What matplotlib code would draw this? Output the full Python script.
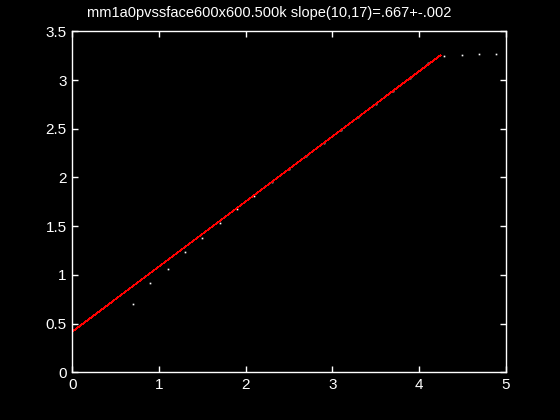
import numpy as np
import matplotlib
matplotlib.use('Agg')
import matplotlib.pyplot as plt

# data points (white dots)
x_pts = [0.70, 0.90, 1.10, 1.30, 1.50, 1.70, 1.90, 2.10, 2.30, 2.50, 2.70,
         2.90, 3.10, 3.30, 3.50, 3.70, 3.90, 4.10, 4.29, 4.50, 4.69, 4.89]
y_pts = [0.698, 0.914, 1.057, 1.232, 1.376, 1.530, 1.673, 1.810, 1.953, 2.087, 2.220,
         2.354, 2.487, 2.621, 2.754, 2.888, 3.021, 3.172, 3.244, 3.255, 3.265, 3.265]

# fitted line
fit_x = [0.0, 4.25]
fit_y = [0.417, 3.255]

title = 'mm1a0pvssface600x600.500k slope(10,17)=.667+-.002'

plt.rcParams['font.family'] = ['Liberation Sans', 'DejaVu Sans']

fig = plt.figure(figsize=(5.6, 4.2), dpi=100, facecolor='black')
ax = fig.add_axes([0.129, 0.1136, 0.774, 0.8119], facecolor='black')

ax.plot(x_pts, y_pts, linestyle='none', marker='s', markersize=1.2,
        color='white', markeredgewidth=0)
ax.plot(fit_x, fit_y, color='red', linewidth=0.5, antialiased=False)

ax.set_xlim(0, 5)
ax.set_ylim(0, 3.5)
ax.set_xticks([0, 1, 2, 3, 4, 5])
ax.set_xticklabels(['0', '1', '2', '3', '4', '5'])
ax.set_yticks([0, 0.5, 1, 1.5, 2, 2.5, 3, 3.5])
ax.set_yticklabels(['0', '0.5', '1', '1.5', '2', '2.5', '3', '3.5'])

for s in ax.spines.values():
    s.set_color('white')
    s.set_linewidth(1.0)
ax.tick_params(direction='in', length=4, width=1, colors='white',
               labelsize=11, top=True, right=True, pad=4)

# title sits a bit left of the axes centre in the original
ax.set_title(title, color='white', fontsize=10.5, pad=10, x=0.454)

fig.savefig('out.png', dpi=100, facecolor='black')
